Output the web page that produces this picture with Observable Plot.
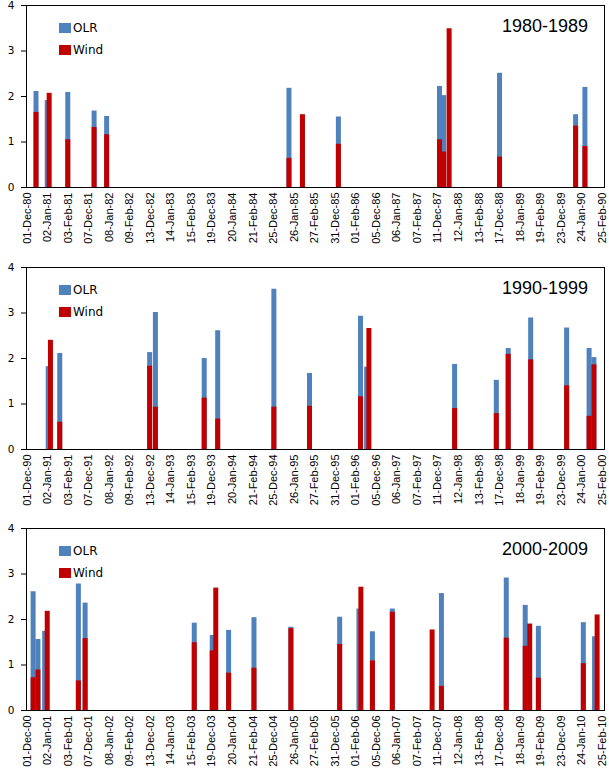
<!DOCTYPE html>
<html>
<head>
<meta charset="utf-8">
<script src="https://cdn.jsdelivr.net/npm/d3@7"></script>
<script src="https://cdn.jsdelivr.net/npm/@observablehq/plot@0.6"></script>
<style>
  body { margin: 0; background: #fff; }
  .panel { position: relative; width: 609px; }
  .panel svg { display: block; }
  .sw { position: absolute; left: 59px; width: 12px; height: 10px; }
  .lt { position: absolute; left: 73px; font-family: "DejaVu Sans"; font-size: 12px; line-height: 14px; color: #000; white-space: nowrap; }
  .title { position: absolute; right: 21px; top: 17px; font-family: "Liberation Sans"; font-size: 18px; line-height: 18px; color: #000; white-space: nowrap; }
</style>
</head>
<body>
<div id="chart"></div>
<script>
// ---- Data ----
const periods = ["1980-1989", "1990-1999", "2000-2009"];
const seriesNames = ["OLR", "Wind"];
const seriesColors = ["#4f81bd", "#c00000"];

// category index of DJF days; a tick label every 32 days
const labelStep = 32;
const labels80 = ["01-Dec-80","02-Jan-81","03-Feb-81","07-Dec-81","08-Jan-82","09-Feb-82","13-Dec-82","14-Jan-83","15-Feb-83","19-Dec-83","20-Jan-84","21-Feb-84","25-Dec-84","26-Jan-85","27-Feb-85","31-Dec-85","01-Feb-86","05-Dec-86","06-Jan-87","07-Feb-87","11-Dec-87","12-Jan-88","13-Feb-88","17-Dec-88","18-Jan-89","19-Feb-89","23-Dec-89","24-Jan-90","25-Feb-90"];
const labels90 = ["01-Dec-90","02-Jan-91","03-Feb-91","07-Dec-91","08-Jan-92","09-Feb-92","13-Dec-92","14-Jan-93","15-Feb-93","19-Dec-93","20-Jan-94","21-Feb-94","25-Dec-94","26-Jan-95","27-Feb-95","31-Dec-95","01-Feb-96","05-Dec-96","06-Jan-97","07-Feb-97","11-Dec-97","12-Jan-98","13-Feb-98","17-Dec-98","18-Jan-99","19-Feb-99","23-Dec-99","24-Jan-00","25-Feb-00"];
const labels00 = ["01-Dec-00","02-Jan-01","03-Feb-01","07-Dec-01","08-Jan-02","09-Feb-02","13-Dec-02","14-Jan-03","15-Feb-03","19-Dec-03","20-Jan-04","21-Feb-04","25-Dec-04","26-Jan-05","27-Feb-05","31-Dec-05","01-Feb-06","05-Dec-06","06-Jan-07","07-Feb-07","11-Dec-07","12-Jan-08","13-Feb-08","17-Dec-08","18-Jan-09","19-Feb-09","23-Dec-09","24-Jan-10","25-Feb-10"];

// 1980-1989
const days80 = [14, 31.5, 34.5, 63.5, 104.5, 124, 408, 429, 485, 642.5, 649, 657.5, 736, 854.5, 869];
const olr80  = [2.11, 1.91, null, 2.09, 1.68, 1.56, 2.18, 1.58, 1.55, 2.22, 2.02, null, 2.51, 1.60, 2.20];
const wind80 = [1.65, null, 2.07, 1.05, 1.32, 1.16, 0.64, 1.60, 0.95, 1.05, 0.78, 3.49, 0.67, 1.35, 0.90];

// 1990-1999
const days90 = [33, 36.5, 51, 191, 200, 276, 297, 384.5, 440, 519.5, 529, 532.5, 666, 731, 749.5, 784.5, 840.5, 875.5, 883];
const olr90  = [1.82, null, 2.11, 2.13, 3.01, 2.00, 2.61, 3.52, 1.67, 2.93, 1.81, null, 1.87, 1.52, 2.22, 2.89, 2.67, 2.22, 2.02];
const wind90 = [null, 2.40, 0.60, 1.83, 0.93, 1.13, 0.67, 0.93, 0.95, 1.16, null, 2.66, 0.90, 0.79, 2.09, 1.97, 1.40, 0.73, 1.86];

// 2000-2009
const days00 = [9.5, 17, 27.5, 31.5, 80, 90.5, 260.5, 288.5, 294, 314, 353.5, 411, 487, 517, 520, 538, 569, 631, 645.5, 746.5, 776, 783, 796.5, 866.5, 884, 888];
const olr00  = [2.61, 1.56, 1.74, null, 2.78, 2.36, 1.92, 1.65, null, 1.76, 2.04, 1.83, 2.05, 2.23, null, 1.73, 2.23, null, 2.57, 2.91, 2.31, null, 1.85, 1.93, 1.62, null];
const wind00 = [0.72, 0.89, null, 2.18, 0.65, 1.58, 1.49, 1.31, 2.69, 0.82, 0.93, 1.80, 1.45, null, 2.71, 1.09, 2.16, 1.77, 0.53, 1.59, 1.41, 1.90, 0.71, 1.03, null, 2.10];

const yTicks = [0, 1, 2, 3, 4];

// ---- Build ----
const panels = [
  {title: periods[0], labels: labels80, days: days80, olr: olr80, wind: wind80, height: 262},
  {title: periods[1], labels: labels90, days: days90, olr: olr90, wind: wind90, height: 261},
  {title: periods[2], labels: labels00, days: days00, olr: olr00, wind: wind00, height: 255}
];

const chart = document.getElementById("chart");

for (const p of panels) {
  const olrRows = p.days.map((d, i) => ({day: d, v: p.olr[i]})).filter(r => r.v != null);
  const windRows = p.days.map((d, i) => ({day: d, v: p.wind[i]})).filter(r => r.v != null);
  const tickDays = p.labels.map((_, i) => i * labelStep);
  const labelMap = new Map(tickDays.map((d, i) => [d, p.labels[i]]));

  const svg = Plot.plot({
    width: 609,
    height: p.height,
    marginTop: 5,
    marginLeft: 26,
    marginRight: 5,
    marginBottom: p.height - 5 - 182,
    style: {background: "transparent", color: "#000", fontFamily: "Liberation Sans"},
    x: {domain: [-0.8, 899.5], label: null},
    y: {domain: [0, 4], label: null},
    marks: [
      Plot.ruleX(olrRows, {x: "day", y: "v", stroke: seriesColors[0], strokeWidth: 5}),
      Plot.ruleX(windRows, {x: "day", y: "v", stroke: seriesColors[1], strokeWidth: 5}),
      Plot.frame({stroke: "#000", strokeWidth: 1}),
      Plot.axisY({ticks: yTicks, tickFormat: d => String(d), tickSize: 5, tickPadding: 7, fontSize: 10.5, fontFamily: "DejaVu Sans", label: null}),
      Plot.axisX({ticks: tickDays, tickFormat: d => labelMap.get(d), tickRotate: -90, tickSize: 0, tickPadding: 5, fontSize: 11, fontFamily: "Liberation Sans", label: null})
    ]
  });

  const div = document.createElement("div");
  div.className = "panel";
  div.style.height = p.height + "px";
  div.appendChild(svg);

  seriesNames.forEach((name, i) => {
    const sw = document.createElement("div");
    sw.className = "sw";
    sw.style.top = (23 + i * 21.5) + "px";
    sw.style.background = seriesColors[i];
    div.appendChild(sw);
    const lt = document.createElement("div");
    lt.className = "lt";
    lt.style.top = (21 + i * 21.5) + "px";
    lt.textContent = name;
    div.appendChild(lt);
  });

  const t = document.createElement("div");
  t.className = "title";
  t.textContent = p.title;
  div.appendChild(t);

  chart.appendChild(div);
}
</script>
</body>
</html>
